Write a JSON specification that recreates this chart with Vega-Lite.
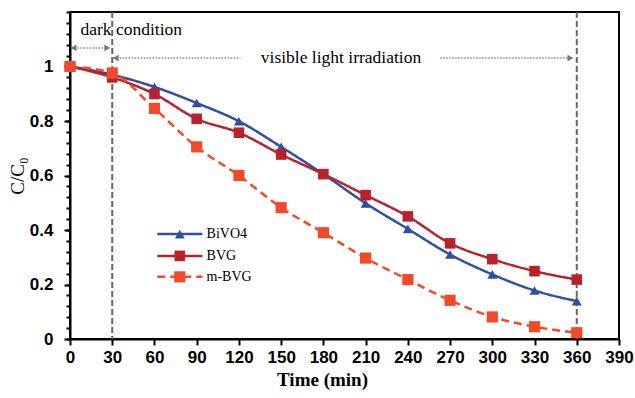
{
  "$schema": "https://vega.github.io/schema/vega-lite/v6.json",
  "width": 549,
  "height": 327,
  "autosize": "none",
  "padding": {"left": 70, "top": 12, "right": 16, "bottom": 59},
  "background": "white",
  "config": {
    "view": {"stroke": "black", "strokeWidth": 2},
    "axis": {"grid": false, "domainColor": "black", "domainWidth": 2, "tickColor": "black", "tickWidth": 2,
      "labelFont": "Liberation Sans", "labelFontWeight": "bold", "labelFontSize": 17, "labelColor": "black",
      "titleColor": "black", "labelFlush": false}
  },
  "resolve": {"axis": {"y": "independent"}},
  "datasets": {
    "series": [
      {"time": 0, "value": 1.0, "series": "BiVO4"},
      {"time": 30, "value": 0.97, "series": "BiVO4"},
      {"time": 60, "value": 0.925, "series": "BiVO4"},
      {"time": 90, "value": 0.866, "series": "BiVO4"},
      {"time": 120, "value": 0.799, "series": "BiVO4"},
      {"time": 150, "value": 0.705, "series": "BiVO4"},
      {"time": 180, "value": 0.605, "series": "BiVO4"},
      {"time": 210, "value": 0.498, "series": "BiVO4"},
      {"time": 240, "value": 0.404, "series": "BiVO4"},
      {"time": 270, "value": 0.31, "series": "BiVO4"},
      {"time": 300, "value": 0.237, "series": "BiVO4"},
      {"time": 330, "value": 0.178, "series": "BiVO4"},
      {"time": 360, "value": 0.139, "series": "BiVO4"},
      {"time": 0, "value": 1.0, "series": "BVG"},
      {"time": 30, "value": 0.96, "series": "BVG"},
      {"time": 60, "value": 0.899, "series": "BVG"},
      {"time": 90, "value": 0.808, "series": "BVG"},
      {"time": 120, "value": 0.757, "series": "BVG"},
      {"time": 150, "value": 0.677, "series": "BVG"},
      {"time": 180, "value": 0.605, "series": "BVG"},
      {"time": 210, "value": 0.528, "series": "BVG"},
      {"time": 240, "value": 0.45, "series": "BVG"},
      {"time": 270, "value": 0.351, "series": "BVG"},
      {"time": 300, "value": 0.293, "series": "BVG"},
      {"time": 330, "value": 0.249, "series": "BVG"},
      {"time": 360, "value": 0.218, "series": "BVG"},
      {"time": 0, "value": 1.0, "series": "m-BVG"},
      {"time": 30, "value": 0.976, "series": "m-BVG"},
      {"time": 60, "value": 0.846, "series": "m-BVG"},
      {"time": 90, "value": 0.705, "series": "m-BVG"},
      {"time": 120, "value": 0.6, "series": "m-BVG"},
      {"time": 150, "value": 0.482, "series": "m-BVG"},
      {"time": 180, "value": 0.39, "series": "m-BVG"},
      {"time": 210, "value": 0.297, "series": "m-BVG"},
      {"time": 240, "value": 0.218, "series": "m-BVG"},
      {"time": 270, "value": 0.142, "series": "m-BVG"},
      {"time": 300, "value": 0.081, "series": "m-BVG"},
      {"time": 330, "value": 0.045, "series": "m-BVG"},
      {"time": 360, "value": 0.023, "series": "m-BVG"}
    ],
    "legend": [
      {"x1": 62, "x2": 94, "xm": 78, "xt": 97, "value": 0.385, "series": "BiVO4", "label": "BiVO4"},
      {"x1": 62, "x2": 94, "xm": 78, "xt": 97, "value": 0.305, "series": "BVG", "label": "BVG"},
      {"x1": 62, "x2": 94, "xm": 78, "xt": 97, "value": 0.228, "series": "m-BVG", "label": "m-BVG"}
    ],
    "vlines": [{"time": 30}, {"time": 360}],
    "arrows": [
      {"x1": 1, "x2": 28, "value": 1.068},
      {"x1": 31, "x2": 121, "value": 1.031},
      {"x1": 263, "x2": 357, "value": 1.031}
    ],
    "headsLeft": [
      {"time": 2.5, "value": 1.068},
      {"time": 32.5, "value": 1.031}
    ],
    "headsRight": [
      {"time": 26.5, "value": 1.068},
      {"time": 355.5, "value": 1.031}
    ],
    "notes": [
      {"time": 43.5, "value": 1.134, "label": "dark condition"},
      {"time": 192.5, "value": 1.031, "label": "visible light irradiation"}
    ]
  },
  "layer": [
    {
      "data": {"name": "vlines"},
      "mark": {"type": "rule", "color": "#666666", "strokeWidth": 2, "strokeDash": [6, 3]},
      "encoding": {
        "x": {"field": "time", "type": "quantitative",
          "scale": {"domain": [0, 390], "nice": false, "zero": false},
          "axis": {"values": [0, 30, 60, 90, 120, 150, 180, 210, 240, 270, 300, 330, 360, 390],
            "tickSize": 6, "labelPadding": 4, "labelFlush": false, "labelOverlap": false, "title": "Time (min)", "titleFont": "Liberation Serif",
            "titleFontSize": 19, "titleFontWeight": "bold", "titlePadding": 5, "titleX": 252}}
      }
    },
    {
      "data": {"name": "arrows"},
      "mark": {"type": "rule", "color": "#888888", "strokeWidth": 1.5, "strokeDash": [1.5, 1.5]},
      "encoding": {
        "x": {"field": "x1", "type": "quantitative", "title": "Time (min)"},
        "x2": {"field": "x2"},
        "y": {"field": "value", "type": "quantitative",
          "scale": {"domain": [0, 1.2], "nice": false, "zero": false},
          "axis": {
            "orient": "left",
            "values": [0, 0.04, 0.08, 0.12, 0.16, 0.2, 0.24, 0.28, 0.32, 0.36, 0.4, 0.44, 0.48, 0.52, 0.56, 0.6, 0.64, 0.68, 0.72, 0.76, 0.8, 0.84, 0.88, 0.92, 0.96, 1, 1.04, 1.08, 1.12, 1.16, 1.2],
            "labels": false, "domain": false, "tickSize": 4, "tickColor": "black", "tickWidth": 2, "title": null
          }}
      }
    },
    {
      "layer": [
        {
          "data": {"name": "headsLeft"},
          "mark": {"type": "point", "filled": true, "color": "#777777", "size": 45, "opacity": 1, "shape": "triangle-left"},
          "encoding": {
            "x": {"field": "time", "type": "quantitative", "title": "Time (min)"},
            "y": {"field": "value", "type": "quantitative",
              "axis": {
                "orient": "left",
                "values": [0, 0.2, 0.4, 0.6, 0.8, 1],
                "format": "~g",
                "tickSize": 6,
                "labelOverlap": false,
                "labelPadding": 11,
                "title": "C/C₀", "titleFont": "Liberation Serif", "titleFontSize": 19, "titleFontWeight": "normal", "titlePadding": 2
              }}
          }
        },
        {
          "data": {"name": "headsRight"},
          "mark": {"type": "point", "filled": true, "color": "#777777", "size": 45, "opacity": 1, "shape": "triangle-right"},
          "encoding": {
            "x": {"field": "time", "type": "quantitative", "title": "Time (min)"},
            "y": {"field": "value", "type": "quantitative", "title": "C/C₀"}
          }
        },
        {
          "data": {"name": "notes"},
          "mark": {"type": "text", "font": "Liberation Serif", "fontSize": 17.5, "color": "black", "align": "center", "baseline": "middle"},
          "encoding": {
            "x": {"field": "time", "type": "quantitative", "title": "Time (min)"},
            "y": {"field": "value", "type": "quantitative", "title": "C/C₀"},
            "text": {"field": "label"}
          }
        },
        {
          "data": {"name": "series"},
          "mark": {"type": "line", "interpolate": "monotone", "strokeWidth": 2.5},
          "encoding": {
            "x": {"field": "time", "type": "quantitative", "title": "Time (min)"},
            "y": {"field": "value", "type": "quantitative", "title": "C/C₀"},
            "color": {"field": "series", "type": "nominal", "scale": {"domain": ["BiVO4", "BVG", "m-BVG"], "range": ["#2f4fa3", "#b8232b", "#f2492b"]}, "legend": null},
            "strokeDash": {"field": "series", "type": "nominal", "scale": {"domain": ["BiVO4", "BVG", "m-BVG"], "range": [[1, 0], [1, 0], [8, 5]]}, "legend": null}
          }
        },
        {
          "data": {"name": "series"},
          "mark": {"type": "point", "filled": true, "opacity": 1},
          "encoding": {
            "x": {"field": "time", "type": "quantitative", "title": "Time (min)"},
            "y": {"field": "value", "type": "quantitative", "title": "C/C₀"},
            "color": {"field": "series", "type": "nominal", "legend": null},
            "shape": {"field": "series", "type": "nominal", "scale": {"domain": ["BiVO4", "BVG", "m-BVG"], "range": ["triangle-up", "square", "square"]}, "legend": null},
            "size": {"field": "series", "type": "nominal", "scale": {"domain": ["BiVO4", "BVG", "m-BVG"], "range": [100, 125, 125]}, "legend": null}
          }
        },
        {
          "data": {"name": "legend"},
          "mark": {"type": "rule", "strokeWidth": 2.5},
          "encoding": {
            "x": {"field": "x1", "type": "quantitative", "title": "Time (min)"},
            "x2": {"field": "x2"},
            "y": {"field": "value", "type": "quantitative", "title": "C/C₀"},
            "color": {"field": "series", "type": "nominal", "legend": null},
            "strokeDash": {"field": "series", "type": "nominal", "legend": null}
          }
        },
        {
          "data": {"name": "legend"},
          "mark": {"type": "point", "filled": true, "opacity": 1},
          "encoding": {
            "x": {"field": "xm", "type": "quantitative", "title": "Time (min)"},
            "y": {"field": "value", "type": "quantitative", "title": "C/C₀"},
            "color": {"field": "series", "type": "nominal", "legend": null},
            "shape": {"field": "series", "type": "nominal", "legend": null},
            "size": {"field": "series", "type": "nominal", "legend": null}
          }
        },
        {
          "data": {"name": "legend"},
          "mark": {"type": "text", "font": "Liberation Serif", "fontSize": 14, "color": "black", "align": "left", "baseline": "middle", "letterSpacing": 0.5},
          "encoding": {
            "x": {"field": "xt", "type": "quantitative", "title": "Time (min)"},
            "y": {"field": "value", "type": "quantitative", "title": "C/C₀"},
            "text": {"field": "label"}
          }
        }
      ]
    }
  ]
}
